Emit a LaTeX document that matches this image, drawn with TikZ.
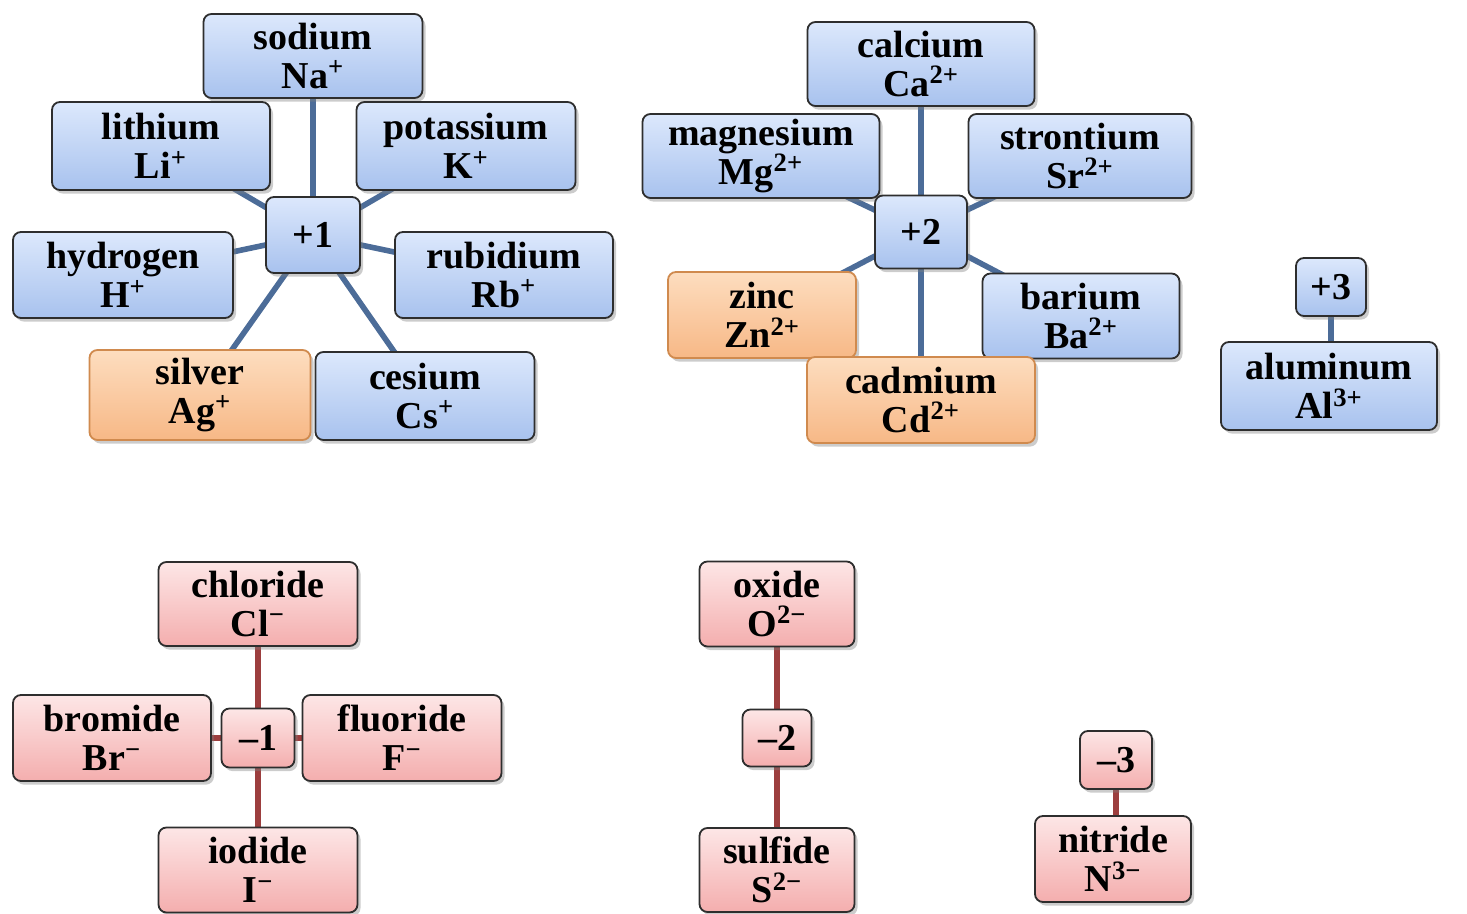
\documentclass[tikz,border=0pt]{standalone}
\usepackage{fontspec}
\setmainfont{Liberation Serif}
\usetikzlibrary{shadows}
\pgfdeclarelayer{background}
\pgfsetlayers{background,main}
\definecolor{bluetop}{HTML}{DCE8FC}
\definecolor{bluebot}{HTML}{A8C2EE}
\definecolor{orgtop}{HTML}{FDDDBF}
\definecolor{orgbot}{HTML}{F7B886}
\definecolor{orgdraw}{HTML}{D08A4E}
\definecolor{pinktop}{HTML}{FDE6E6}
\definecolor{pinkbot}{HTML}{F4AEAE}
\definecolor{boxdraw}{HTML}{2E2E2E}
\definecolor{blueline}{HTML}{4C6C98}
\definecolor{redline}{HTML}{9C3E3E}
\tikzset{
  ionbox/.style={rounded corners=4pt, draw=boxdraw, line width=0.9pt, align=center, inner sep=0pt,
    font=\fontsize{19pt}{19.5pt}\selectfont\bfseries,
    drop shadow={shadow xshift=1.5pt, shadow yshift=-1.8pt, opacity=0.4}},
  bluebox/.style={ionbox, top color=bluetop, bottom color=bluebot},
  orgbox/.style={ionbox, draw=orgdraw, top color=orgtop, bottom color=orgbot},
  pinkbox/.style={ionbox, top color=pinktop, bottom color=pinkbot},
  bline/.style={draw=blueline, line width=2.8pt},
  rline/.style={draw=redline, line width=2.8pt},
  sz/.style 2 args={minimum width=#1, minimum height=#2}
}
\newcommand{\sps}[1]{\textsuperscript{#1}}
\begin{document}
\begin{tikzpicture}[x=0.5pt, y=-0.5pt]
\useasboundingbox (0,0) rectangle (1467,914);
% +1 group
\node[bluebox, sz={109.5pt}{42pt}] (na) at (313,56) {sodium\\Na\sps{+}};
\node[bluebox, sz={109pt}{44pt}] (li) at (161,146) {lithium\\Li\sps{+}};
\node[bluebox, sz={109.5pt}{44pt}] (k) at (466,146) {potassium\\K\sps{+}};
\node[bluebox, sz={47pt}{38pt}] (p1) at (313,235) {+1};
\node[bluebox, sz={110pt}{43pt}] (h) at (123,275) {hydrogen\\H\sps{+}};
\node[bluebox, sz={109pt}{43pt}] (rb) at (504,275) {rubidium\\Rb\sps{+}};
\node[orgbox, sz={110.5pt}{45pt}] (ag) at (200,395) {silver\\Ag\sps{+}};
\node[bluebox, sz={109.5pt}{44pt}] (cs) at (425,396) {cesium\\Cs\sps{+}};
% +2 group
\node[bluebox, sz={113.5pt}{42pt}] (ca) at (921,64) {calcium\\Ca\sps{2+}};
\node[bluebox, sz={118.5pt}{42pt}] (mg) at (761,156) {magnesium\\Mg\sps{2+}};
\node[bluebox, sz={111.5pt}{42pt}] (sr) at (1080,156) {strontium\\Sr\sps{2+}};
\node[bluebox, sz={46pt}{36.5pt}] (p2) at (921,232) {+2};
\node[orgbox, sz={94pt}{43pt}] (zn) at (762,315) {zinc\\Zn\sps{2+}};
\node[bluebox, sz={98.5pt}{42.5pt}] (ba) at (1081,316) {barium\\Ba\sps{2+}};
\node[orgbox, sz={114pt}{43pt}] (cd) at (921,400) {cadmium\\Cd\sps{2+}};
% +3 group
\node[bluebox, sz={35pt}{29pt}] (p3) at (1331,287) {+3};
\node[bluebox, sz={108pt}{44pt}] (al) at (1329,386) {aluminum\\Al\sps{3+}};
% -1 group
\node[pinkbox, sz={99.5pt}{42pt}] (cl) at (258,604) {chloride\\Cl\sps{−}};
\node[pinkbox, sz={36.5pt}{29.5pt}] (m1) at (258,738) {–1};
\node[pinkbox, sz={99pt}{43pt}] (br) at (112,738) {bromide\\Br\sps{−}};
\node[pinkbox, sz={99.5pt}{43pt}] (f) at (402,738) {fluoride\\F\sps{−}};
\node[pinkbox, sz={99.5pt}{42.5pt}] (io) at (258,870) {iodide\\I\sps{−}};
% -2 group
\node[pinkbox, sz={77.5pt}{42.5pt}] (ox) at (777,604) {oxide\\O\sps{2−}};
\node[pinkbox, sz={34.5pt}{28.5pt}] (m2) at (777,738) {–2};
\node[pinkbox, sz={77.5pt}{42pt}] (su) at (777,870) {sulfide\\S\sps{2−}};
% -3 group
\node[pinkbox, sz={36pt}{29pt}] (m3) at (1116,760) {–3};
\node[pinkbox, sz={78pt}{43pt}] (ni) at (1113,859) {nitride\\N\sps{3−}};
\begin{pgfonlayer}{background}
\foreach \t in {na,li,k,h,rb,ag,cs} \draw[bline] (p1.center) -- (\t.center);
\foreach \t in {ca,mg,sr,zn,ba,cd} \draw[bline] (p2.center) -- (\t.center);
\draw[bline] (p3.center) -- (p3.center |- al.center);
\foreach \t in {cl,br,f,io} \draw[rline] (m1.center) -- (\t.center);
\draw[rline] (m2.center) -- (ox.center);
\draw[rline] (m2.center) -- (su.center);
\draw[rline] (m3.center) -- (m3.center |- ni.center);
\end{pgfonlayer}
\end{tikzpicture}
\end{document}
